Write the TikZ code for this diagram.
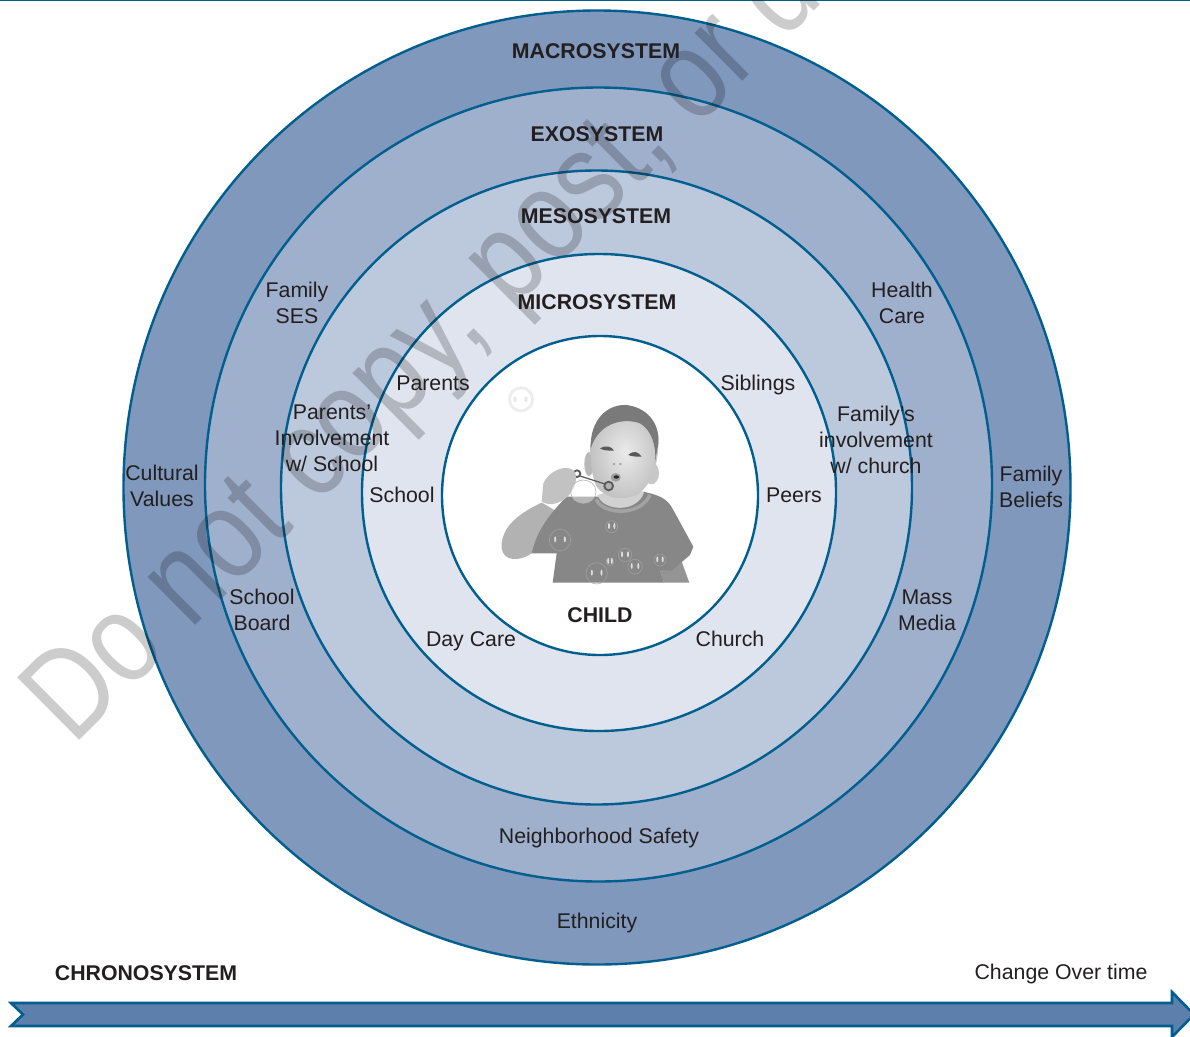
\documentclass[tikz,border=0pt]{standalone}
\usepackage{fontspec}
\setmainfont{Liberation Sans}
\newfontfamily\wmfont[FakeStretch=0.83]{Liberation Sans}
\definecolor{ringline}{HTML}{005F8F}
\definecolor{macro}{HTML}{7F98BC}
\definecolor{exo}{HTML}{9FB0CD}
\definecolor{meso}{HTML}{BCC8DC}
\definecolor{micro}{HTML}{DFE4EF}
\definecolor{arrowfill}{HTML}{5C80AB}
\definecolor{ink}{HTML}{231F20}
\tikzset{
  ring/.style={draw=ringline,line width=2.4pt},
  lab/.style={text=ink,font=\fontsize{21.3}{26}\selectfont,align=center,inner sep=0pt},
  title/.style={text=ink,font=\fontsize{21.3}{26}\selectfont\bfseries,align=center,inner sep=0pt},
  wmark/.style={text=black,text opacity=0.2,font=\wmfont\fontsize{128}{128}\selectfont,inner sep=0pt,anchor=base west,rotate=44.8},
}
\begin{document}
\begin{tikzpicture}[x=1pt,y=-1pt]
\useasboundingbox (0,0) rectangle (1190,1036);
\clip (0,0) rectangle (1190,1036);
\fill[white] (0,0) rectangle (1190,1036);
\draw[ringline,line width=2.4pt] (0,0) -- (1190,0);
% rings
\draw[ring,fill=macro] (597,487.5) ellipse [x radius=473.5pt,y radius=477pt];
\draw[ring,fill=exo] (598.5,484.5) ellipse [x radius=393.5pt,y radius=397pt];
\draw[ring,fill=meso] (596.5,487.5) ellipse [x radius=315.5pt,y radius=317pt];
\draw[ring,fill=micro] (599,492.5) ellipse [x radius=237pt,y radius=238.5pt];
\draw[ring,fill=white] (600,495.5) ellipse [x radius=158pt,y radius=159.5pt];
% child picture, in coordinates of a 3x crop
\begin{scope}[shift={(440,340)},x=0.33333pt,y=-0.33333pt]
 \fill[gray!14] (243,178) circle [radius=39];
 \fill[white] (243,178) circle [radius=30];
 \fill[gray!18] (225,178) ellipse [x radius=5,y radius=9] (258,178) ellipse [x radius=5,y radius=9];
 % right forearm
 \fill[black!42] (660,690) -- (725,665) -- (748,728) -- (672,728) -- cycle;
 % left arm
 \fill[black!30] (185,610) .. controls (190,570) and (215,530) .. (305,488) -- (360,520) -- (330,610) -- (275,640) .. controls (240,665) and (190,665) .. (185,625) -- cycle;
 % shirt
 \fill[black!47] (380,470) -- (470,470) -- (610,455) .. controls (650,465) and (680,470) .. (700,510) -- (760,620) -- (750,645) -- (695,692) -- (660,690) -- (672,728) -- (338,728) -- (350,640) -- (275,640) .. controls (285,600) and (300,550) .. (380,470) -- cycle;
 % collar
 \draw[black!36,line width=3.5pt] (468,478) .. controls (490,525) and (600,530) .. (630,465);
 \fill[black!18] (472,465) .. controls (490,515) and (590,520) .. (612,458) -- (560,440) -- cycle;
 % shirt bubbles
 \foreach \bx/\by/\br in {360/600/32,515/560/18,470/700/32,555/645/20,585/680/22,660/660/18,510/665/12}{
   \draw[black!36,line width=0.5pt] (\bx,\by) circle [radius=\br];
   \fill[black!12] (\bx-\br*0.45,\by-2) ellipse [x radius=3,y radius=9] (\bx+\br*0.45,\by-2) ellipse [x radius=3,y radius=9];
 }
 % ears
 \fill[black!28] (447,372) ellipse [x radius=14,y radius=36];
 \fill[black!22] (635,400) ellipse [x radius=22,y radius=33];
 % head
 \shade[inner color=black!8,outer color=black!24] (452,330) .. controls (450,240) and (500,195) .. (555,195) .. controls (620,200) and (660,250) .. (655,310) .. controls (655,380) and (630,440) .. (590,465) .. controls (550,480) and (500,480) .. (470,440) .. controls (455,410) and (452,370) .. (452,330) -- cycle;
 % hair
 \fill[black!52] (452,325) .. controls (450,240) and (500,195) .. (555,195) .. controls (620,200) and (660,250) .. (655,310) -- (645,365) .. controls (650,320) and (635,270) .. (600,250) .. controls (560,235) and (480,240) .. (452,325) -- cycle;
 % eyes, nose, mouth
 \fill[black!65] (480,325) .. controls (495,315) and (515,318) .. (522,332) .. controls (505,332) and (490,332) .. (480,325) -- cycle;
 \fill[black!65] (565,345) .. controls (580,330) and (595,335) .. (605,350) .. controls (590,350) and (575,350) .. (565,345) -- cycle;
 \fill[black!42] (522,372) ellipse [x radius=4,y radius=3] (541,372) ellipse [x radius=4,y radius=3];
 \fill[black!38] (527,412) ellipse [x radius=15,y radius=13];
 \fill[black!85] (529,411) ellipse [x radius=8,y radius=5];
 % wand
 \draw[black!65,line width=1.2pt] (420,408) -- (495,432);
 \draw[black!65,line width=1.8pt] (411,401) circle [radius=10];
 \draw[black!65,fill=black!30,line width=1.8pt] (506,438) circle [radius=13];
 % hand
 \fill[black!24] (310,430) .. controls (325,395) and (375,370) .. (402,392) .. controls (420,420) and (395,460) .. (380,472) .. controls (360,490) and (330,500) .. (305,485) -- cycle;
 \draw[black!30,line width=0.6pt,fill=white,fill opacity=0.4] (430,455) ellipse [x radius=38,y radius=35];
\end{scope}
% chronosystem arrow
\coordinate (tailtop) at (11,1003);
\draw[ringline,line width=2.6pt,line join=miter,fill=arrowfill]
  (tailtop) -- (1172,1003) -- (1172,992) -- (1194,1014.5) -- (1172,1037) -- (1172,1026) -- (11,1026) -- (23,1014.5) -- cycle;
% watermark
\node[wmark] (wm) at (73,747) {Do not copy, post, or distribute};
% labels
\node[title] (macrot) at (596,51.5) {MACROSYSTEM};
\node[title] (exot) at (597,134.5) {EXOSYSTEM};
\node[title] (mesot) at (596,216.5) {MESOSYSTEM};
\node[title] (microt) at (597,302.5) {MICROSYSTEM};
\node[title] (childt) at (600,615.5) {CHILD};
\node[title] (chrono) at (146,973) {CHRONOSYSTEM};
\node[lab] (change) at (1061,974) {Change Over time};
\node[lab] (ethn) at (597,923) {Ethnicity};
\node[lab] (safety) at (599,838) {Neighborhood Safety};
\node[lab] (ses) at (297,302.5) {Family\\SES};
\node[lab] (health) at (902,302.5) {Health\\Care};
\node[lab] (cultural) at (162,486) {Cultural\\Values};
\node[lab] (beliefs) at (1031,486.5) {Family\\Beliefs};
\node[lab] (board) at (262,610) {School\\Board};
\node[lab] (media) at (927,610) {Mass\\Media};
\node[lab] (pinv) at (332,438) {Parents’\\Involvement\\w/ School};
\node[lab] (finv) at (876,440) {Family’s\\involvement\\w/ church};
\node[lab] (parents) at (433,383) {Parents};
\node[lab] (siblings) at (758,385) {Siblings};
\node[lab] (school) at (402,495) {School};
\node[lab] (peers) at (794,495) {Peers};
\node[lab] (daycare) at (471,641) {Day Care};
\node[lab] (church) at (730,639) {Church};
\end{tikzpicture}
\end{document}
